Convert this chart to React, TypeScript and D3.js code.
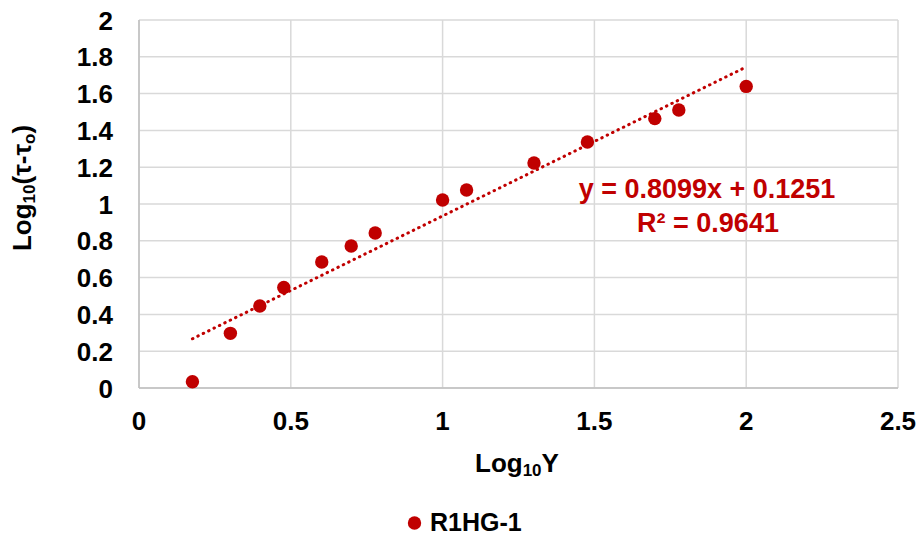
import React from "react";
import * as d3 from "d3";

const logShear = [0.176, 0.301, 0.398, 0.477, 0.602, 0.699, 0.778, 1.0, 1.079, 1.301, 1.477, 1.699, 1.778, 2.0];
const logStress = [0.034, 0.297, 0.446, 0.546, 0.685, 0.772, 0.842, 1.022, 1.076, 1.223, 1.337, 1.464, 1.511, 1.639];
const xTicks = [0, 0.5, 1, 1.5, 2, 2.5];
const yTicks = [0, 0.2, 0.4, 0.6, 0.8, 1, 1.2, 1.4, 1.6, 1.8, 2];
const slope = 0.8099;
const intercept = 0.1251;
const rSquared = 0.9641;
const seriesName = "R1HG-1";

const W = 922;
const H = 536;
const left = 139;
const right = 898;
const top = 20;
const bottom = 388;
const red = "#C00000";
const font = "'Liberation Sans', Arial, sans-serif";

export default function App() {
  const x = d3.scaleLinear().domain([0, 2.5]).range([left, right]);
  const y = d3.scaleLinear().domain([0, 2]).range([bottom, top]);
  const x0 = d3.min(logShear) as number;
  const x1 = d3.max(logShear) as number;
  const trend = d3.line<number>().x((v) => x(v)).y((v) => y(slope * v + intercept))([x0, x1]) as string;
  const fmt = (v: number) => String(v);

  return (
    <svg width={W} height={H} style={{ display: "block", position: "absolute", left: 0, top: 0 }} fontFamily={font}>
      <rect width={W} height={H} fill="#fff" />
      {yTicks.map((t) => (
        <line key={"gy" + t} x1={left} x2={right} y1={y(t)} y2={y(t)} stroke="#d9d9d9" strokeWidth={1.5} />
      ))}
      {xTicks.map((t) => (
        <line key={"gx" + t} x1={x(t)} x2={x(t)} y1={top} y2={bottom} stroke="#d9d9d9" strokeWidth={1.5} />
      ))}
      <line x1={left} x2={left} y1={top} y2={bottom} stroke="#bfbfbf" strokeWidth={1.5} />
      <line x1={left} x2={right} y1={bottom} y2={bottom} stroke="#bfbfbf" strokeWidth={1.5} />
      {yTicks.map((t) => (
        <text key={"ty" + t} x={113} y={y(t) + 9.5} textAnchor="end" fontSize={26} fontWeight="bold" fill="#000">
          {fmt(t)}
        </text>
      ))}
      {xTicks.map((t) => (
        <text key={"tx" + t} x={x(t)} y={430} textAnchor="middle" fontSize={26} fontWeight="bold" fill="#000">
          {fmt(t)}
        </text>
      ))}
      <text x={475} y={472} fontSize={26} fontWeight="bold" fill="#000">
        Log<tspan fontSize={17} dy={4}>10</tspan><tspan dy={-4}>Y</tspan>
      </text>
      <text transform={`translate(31,188) rotate(-90)`} textAnchor="middle" fontSize={26} fontWeight="bold" fill="#000">
        Log<tspan fontSize={17} dy={4}>10</tspan><tspan dy={-4}>(τ-τ</tspan><tspan fontSize={17} dy={4}>o</tspan><tspan dy={-4}>)</tspan>
      </text>
      <path d={trend} fill="none" stroke={red} strokeWidth={3} strokeDasharray="0.5 5.5" strokeLinecap="round" />
      {logShear.map((v, i) => (
        <circle key={"p" + i} cx={x(v)} cy={y(logStress[i])} r={6.7} fill={red} />
      ))}
      <text x={707} y={198} textAnchor="middle" fontSize={27} fontWeight="bold" fill={red}>
        {`y = ${slope}x + ${intercept}`}
      </text>
      <text x={708} y={232} textAnchor="middle" fontSize={27} fontWeight="bold" fill={red}>
        {`R² = ${rSquared}`}
      </text>
      <circle cx={414.5} cy={523} r={6.7} fill={red} />
      <text x={430} y={531} fontSize={25} fontWeight="bold" fill="#000">
        {seriesName}
      </text>
    </svg>
  );
}
